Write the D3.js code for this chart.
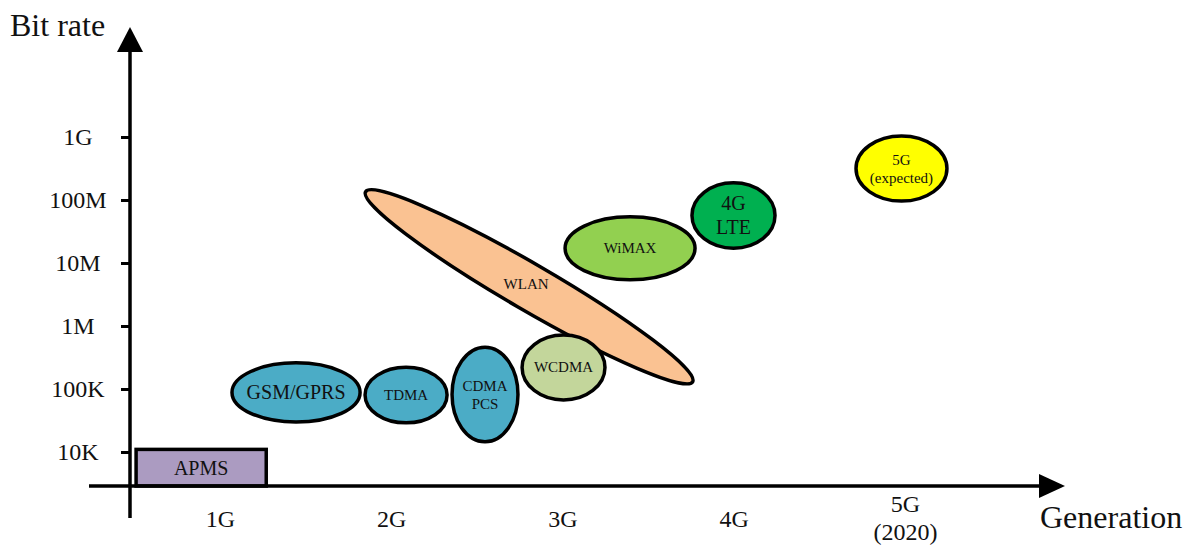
<!DOCTYPE html>
<html>
<head>
<meta charset="utf-8">
<script src="https://cdn.jsdelivr.net/npm/d3@7"></script>
<style>
  html, body { margin: 0; padding: 0; background: #fff; }
  svg { display: block; font-family: "Liberation Serif", "Times New Roman", serif; }
</style>
</head>
<body>
<svg id="chart" width="1194" height="547"></svg>
<script>
// ---- data ----
const genValues = [1, 2, 3, 4, 5];
const genLabels = [["1G"], ["2G"], ["3G"], ["4G"], ["5G", "(2020)"]];
const rateTicks = [1e4, 1e5, 1e6, 1e7, 1e8, 1e9];
const rateLabels = ["10K", "100K", "1M", "10M", "100M", "1G"];

// axis-aligned technology regions (generation range, bit-rate range in bps)
const techNames   = ["GSM/GPRS", "TDMA", "CDMA\nPCS", "WCDMA", "WiMAX", "4G\nLTE", "5G\n(expected)"];
const techGenFrom = [1.07, 1.847, 2.355, 2.764, 3.015, 3.756, 4.714];
const techGenTo   = [1.818, 2.326, 2.740, 3.248, 3.774, 4.241, 5.245];
const techRateLo  = [3.0e4, 2.9e4, 1.45e4, 6.7e4, 5.4e6, 1.72e7, 9.6e7];
const techRateHi  = [2.6e5, 2.22e5, 4.6e5, 7.2e5, 5.4e7, 1.88e8, 1.04e9];

// WLAN: diagonal region between two (generation, bit rate) points
const wlanName = "WLAN";
const wlanFrom = [1.85, 1.35e8];
const wlanTo   = [3.76, 1.3e5];

// APMS: box from generation range up to 10K
const apmsName = "APMS";
const apmsGen  = [0.51, 1.27];
const apmsRate = 1.1e4;

// ---- styles ----
const fills = {
  "GSM/GPRS": "#4BACC6", "TDMA": "#4BACC6", "CDMA\nPCS": "#4BACC6",
  "WCDMA": "#C3D69B", "WiMAX": "#92D050", "4G\nLTE": "#00B050",
  "5G\n(expected)": "#FFFF00", "WLAN": "#FAC292", "APMS": "#AB9BC1"
};
const fontSizes = {
  "GSM/GPRS": 20, "TDMA": 15, "CDMA\nPCS": 15, "WCDMA": 15, "WiMAX": 15,
  "4G\nLTE": 20, "5G\n(expected)": 15, "WLAN": 15, "APMS": 20
};
const lineGaps = { "CDMA\nPCS": 18, "4G\nLTE": 24, "5G\n(expected)": 18 };

const svg = d3.select("#chart");
const x = d3.scaleLinear().domain([1, 5]).range([220, 905]);
const y = d3.scaleLog().domain([1e4, 1e9]).range([452, 137]);

const axisX = 130;   // pixel position of the vertical axis
const axisY = 486;   // pixel position of the horizontal axis
const SW = 3.5;
const txt = "#111";

// ---- APMS box ----
const apmsX0 = x(apmsGen[0]), apmsX1 = x(apmsGen[1]), apmsY0 = y(apmsRate);
svg.append("rect")
  .attr("x", apmsX0).attr("y", apmsY0)
  .attr("width", apmsX1 - apmsX0).attr("height", axisY - apmsY0)
  .attr("fill", fills[apmsName]).attr("stroke", "#000").attr("stroke-width", SW);
svg.append("text")
  .attr("x", (apmsX0 + apmsX1) / 2).attr("y", (apmsY0 + axisY) / 2)
  .attr("text-anchor", "middle").attr("dominant-baseline", "central")
  .attr("font-size", fontSizes[apmsName]).attr("fill", txt).text(apmsName);

// ---- ellipse helper ----
function drawLabel(name, cx, cy) {
  const lines = name.split("\n");
  const gap = lineGaps[name] || 0;
  const t = svg.append("text").attr("text-anchor", "middle")
    .attr("font-size", fontSizes[name]).attr("fill", txt);
  lines.forEach((ln, i) => {
    t.append("tspan").attr("x", cx)
      .attr("y", cy + (i - (lines.length - 1) / 2) * gap)
      .attr("dominant-baseline", "central").text(ln);
  });
}
function drawTech(i) {
  const name = techNames[i];
  const x0 = x(techGenFrom[i]), x1 = x(techGenTo[i]);
  const y0 = y(techRateHi[i]), y1 = y(techRateLo[i]);
  const cx = (x0 + x1) / 2, cy = (y0 + y1) / 2;
  svg.append("ellipse").attr("cx", cx).attr("cy", cy)
    .attr("rx", (x1 - x0) / 2).attr("ry", (y1 - y0) / 2)
    .attr("fill", fills[name]).attr("stroke", "#000").attr("stroke-width", SW);
  drawLabel(name, cx, cy);
}

// GSM, TDMA, CDMA
[0, 1, 2].forEach(drawTech);

// WLAN (rotated)
{
  const ax = x(wlanFrom[0]), ay = y(wlanFrom[1]);
  const bx = x(wlanTo[0]), by = y(wlanTo[1]);
  const cx = (ax + bx) / 2, cy = (ay + by) / 2;
  const len = Math.hypot(bx - ax, by - ay);
  const ang = Math.atan2(by - ay, bx - ax) * 180 / Math.PI;
  svg.append("ellipse").attr("cx", 0).attr("cy", 0)
    .attr("rx", len / 2).attr("ry", 23)
    .attr("transform", `translate(${cx},${cy}) rotate(${ang})`)
    .attr("fill", fills[wlanName]).attr("stroke", "#000").attr("stroke-width", SW);
  drawLabel(wlanName, cx - 3, cy - 3);
}

// WCDMA, WiMAX, 4G, 5G
[3, 4, 5, 6].forEach(drawTech);

// ---- y axis ----
const yAxis = d3.axisLeft(y).tickValues(rateTicks)
  .tickFormat((d, i) => rateLabels[i]).tickSize(9).tickPadding(0);
const gy = svg.append("g").attr("transform", `translate(${axisX},0)`).call(yAxis);
gy.select(".domain").remove();
gy.selectAll(".tick line").attr("stroke", "#000").attr("stroke-width", 3);
gy.selectAll(".tick text")
  .attr("x", -52).attr("dy", "0.32em").attr("text-anchor", "middle")
  .attr("font-family", "Liberation Serif, Times New Roman, serif")
  .attr("font-size", 24).attr("fill", txt);

// ---- x axis (labels only) ----
const xAxis = d3.axisBottom(x).tickValues(genValues).tickSize(0).tickFormat("");
const gx = svg.append("g").attr("transform", `translate(0,${axisY})`).call(xAxis);
gx.select(".domain").remove();
gx.selectAll(".tick").each(function (d, i) {
  const lines = genLabels[i];
  const t = d3.select(this).append("text").attr("text-anchor", "middle")
    .attr("font-family", "Liberation Serif, Times New Roman, serif")
    .attr("font-size", 24).attr("fill", txt);
  if (lines.length === 1) {
    t.append("tspan").attr("x", 0).attr("y", 41).text(lines[0]);
  } else {
    t.append("tspan").attr("x", 0).attr("y", 26).text(lines[0]);
    t.append("tspan").attr("x", 0).attr("y", 54).text(lines[1]);
  }
});

// ---- axis lines with arrows ----
svg.append("line").attr("x1", axisX).attr("x2", axisX).attr("y1", 518).attr("y2", 50)
  .attr("stroke", "#000").attr("stroke-width", 3.5);
svg.append("path").attr("d", `M${axisX - 13},52 L${axisX},27 L${axisX + 13},52 Z`).attr("fill", "#000");
svg.append("line").attr("x1", 89).attr("x2", 1042).attr("y1", axisY).attr("y2", axisY)
  .attr("stroke", "#000").attr("stroke-width", 3.5);
svg.append("path").attr("d", `M1039,${axisY - 12} L1065,${axisY} L1039,${axisY + 12} Z`).attr("fill", "#000");

// ---- axis titles ----
svg.append("text").attr("x", 10).attr("y", 36).attr("font-size", 32).attr("fill", txt).text("Bit rate");
svg.append("text").attr("x", 1040).attr("y", 528).attr("font-size", 32).attr("fill", txt).text("Generation");
</script>
</body>
</html>
